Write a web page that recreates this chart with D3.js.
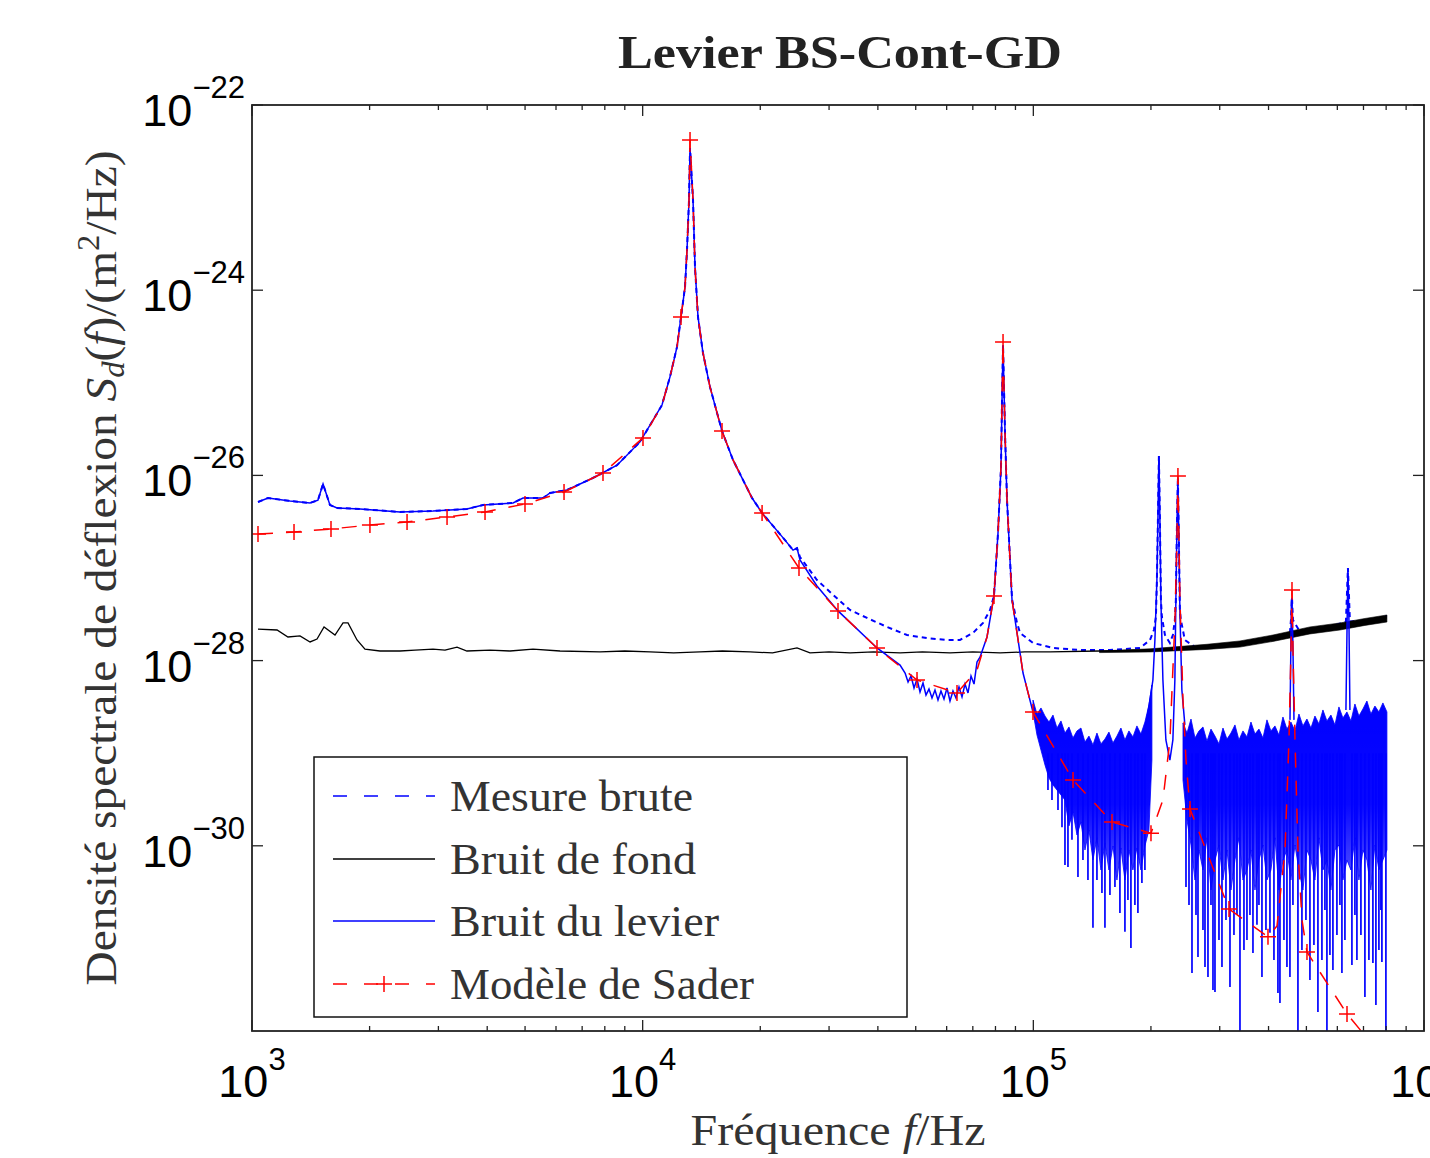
<!DOCTYPE html>
<html><head><meta charset="utf-8">
<script src="https://cdn.jsdelivr.net/npm/d3@7"></script>
<style>body{margin:0;background:#fff} svg{display:block}</style>
</head><body>
<svg id="c" width="1430" height="1158"></svg>
<script>
// ---------- axis ticks / labels ----------
const xTickValues = [1e3, 1e4, 1e5, 1e6];
const xTickExps = ["3", "4", "5", "6"];
const yTickValues = [1e-22, 1e-24, 1e-26, 1e-28, 1e-30];
const yTickExps = ["\u221222", "\u221224", "\u221226", "\u221228", "\u221230"];
const legendLabels = ["Mesure brute", "Bruit de fond", "Bruit du levier", "Mod\u00e8le de Sader"];

// ---------- series: [frequency Hz, S_d m^2/Hz] ----------
const mesureBrute = [[1036,5.16e-27],[1099,5.70e-27],[1251,5.30e-27],[1408,5.04e-27],[1475,5.40e-27],[1520,8.07e-27],[1583,4.79e-27],[1651,4.45e-27],[1890,4.34e-27],[2392,4.03e-27],[2906,4.13e-27],[3550,4.34e-27],[3903,4.79e-27],[4657,5.04e-27],[4940,5.70e-27],[5558,5.70e-27],[5792,6.46e-27],[6403,6.95e-27],[7462,9.38e-27],[8597,1.29e-26],[9844,2.30e-26],[11206,5.75e-26],[11748,1.16e-25],[12244,2.44e-25],[12535,5.14e-25],[12835,1.08e-24],[12987,2.72e-24],[13141,9.42e-24],[13220,3.43e-23],[13456,9.42e-24],[13614,1.78e-24],[13856,5.14e-25],[14268,2.10e-25],[14870,9.02e-26],[15963,3.01e-26],[17030,1.47e-26],[19055,5.70e-27],[20215,3.93e-27],[23140,2.00e-27],[24260,1.56e-27],[24836,1.64e-27],
[25277,1.31e-27],[27935,7.42e-28],[30164,5.51e-28],[33951,3.52e-28],[37522,2.89e-28],[42211,2.31e-28],[47501,1.89e-28],[53430,1.75e-28],[60121,1.67e-28],[64908,1.67e-28],[70077,1.99e-28],[74340,2.55e-28],[77469,3.52e-28],[79310,4.99e-28],[81202,2.39e-27],[82650,1.23e-26],[83146,6.52e-26],[83645,2.56e-25],[84633,2.87e-26],[85633,5.42e-27],[88197,4.6e-28],[90831,2.55e-28],[92474,1.99e-28],[99793,1.55e-28],[112300,1.37e-28],[131680,1.30e-28],[157070,1.30e-28],[187500,1.37e-28],[198880,1.67e-28],[203540,2.14e-28],[205950,2.96e-28],[207160,7.42e-28],[208390,3.30e-27],[209620,1.62e-26],[210860,3.30e-27],[212110,4.51e-28],[213380,2.96e-28],[217200,1.89e-28],[223620,1.55e-28],[227610,1.89e-28],[230300,2.74e-28],[231660,4.51e-28],[233030,2.57e-27],[234410,9.38e-27],[235800,2.00e-27],[237190,3.52e-28],[238600,2.74e-28],[244280,1.67e-28],[259290,1.40e-28],[318670,1.47e-28],[403340,1.75e-28],[453780,1.99e-28],[456470,2.74e-28],[459300,4.74e-28],[462000,2.74e-28],[481500,2.04e-28],[574380,2.31e-28],[631170,2.64e-28],[638650,1.0e-27],[646230,2.64e-28],[727030,2.74e-28],[803630,3.03e-28]];

const bruitFond = [[1036,2.19e-28],[1159,2.14e-28],[1236,1.80e-28],[1327,1.85e-28],[1408,1.59e-28],[1467,1.71e-28],[1529,2.31e-28],[1631,1.89e-28],[1710,2.55e-28],[1761,2.55e-28],[1857,1.67e-28],[1946,1.33e-28],[2126,1.27e-28],[2392,1.27e-28],[2614,1.30e-28],[2906,1.33e-28],[3119,1.30e-28],[3348,1.40e-28],[3550,1.27e-28],[4067,1.30e-28],[4575,1.27e-28],[5240,1.33e-28],[6144,1.27e-28],[7778,1.24e-28],[9000,1.27e-28],[10442,1.24e-28],[12000,1.21e-28],[14019,1.24e-28],[16000,1.27e-28],[18830,1.24e-28],[21500,1.21e-28],[24836,1.37e-28],[26810,1.21e-28],[30000,1.24e-28],[33951,1.21e-28],[39000,1.24e-28],[45584,1.21e-28],[52000,1.24e-28],[61190,1.21e-28],[70000,1.24e-28],[82180,1.21e-28],[95000,1.24e-28],[110330,1.24e-28],[147700,1.27e-28],[198880,1.30e-28],[278280,1.40e-28],[338010,1.55e-28],[410600,1.75e-28],[510530,2.14e-28],[609500,2.31e-28],[705930,2.64e-28],[803630,2.89e-28]];
// thick (noisy) high-frequency part of the floor: [f, upper, lower]
const bruitFondBand = [[147700,1.27e-28,1.22e-28],[198880,1.34e-28,1.24e-28],[278280,1.50e-28,1.32e-28],[338010,1.63e-28,1.40e-28],[410600,1.89e-28,1.61e-28],[510530,2.31e-28,1.94e-28],[609500,2.55e-28,2.14e-28],[705930,2.85e-28,2.40e-28],[803630,3.11e-28,2.61e-28]];

const bruitLevier = [[1036,5.16e-27],[1099,5.70e-27],[1251,5.30e-27],[1408,5.04e-27],[1475,5.40e-27],[1520,8.07e-27],[1583,4.79e-27],[1651,4.45e-27],[1890,4.34e-27],[2392,4.03e-27],[2906,4.13e-27],[3550,4.34e-27],[3903,4.79e-27],[4657,5.04e-27],[4940,5.70e-27],[5558,5.70e-27],[5792,6.46e-27],[6403,6.95e-27],[7462,9.38e-27],[8597,1.29e-26],[9844,2.30e-26],[11206,5.75e-26],[11748,1.16e-25],[12244,2.44e-25],[12535,5.14e-25],[12835,1.08e-24],[12987,2.72e-24],[13141,9.42e-24],[13220,3.43e-23],[13456,9.42e-24],[13614,1.78e-24],[13856,5.14e-25],[14268,2.10e-25],[14870,9.02e-26],[15963,3.01e-26],[17030,1.47e-26],[19055,5.70e-27],[20215,3.93e-27],[23140,2.00e-27],[24260,1.56e-27],[24836,1.64e-27],[25277,1.22e-27],[27935,6.4e-28],[31623,3.44e-28],[39795,1.37e-28],[45584,8.95e-29],
[46960,7.34e-29],[47790,5.87e-29],[48640,6.82e-29],[49500,5.06e-29],[50380,6.33e-29],[51280,4.58e-29],[52190,5.73e-29],[53120,4.25e-29],[54060,4.93e-29],[55030,3.94e-29],[56010,4.81e-29],[57010,3.76e-29],[58020,4.70e-29],[59060,3.85e-29],[60120,5.06e-29],[61190,3.66e-29],[62280,4.70e-29],[63390,3.94e-29],[64520,5.19e-29],[65680,4.05e-29],[66850,5.58e-29],[68040,4.47e-29],[69260,6.82e-29],[70500,5.58e-29],[71750,9.66e-29],[73030,1.09e-28],
[76109,1.80e-28],[79310,4.99e-28],[81202,2.39e-27],[82650,1.23e-26],[83146,6.52e-26],[83645,2.56e-25],[84633,2.87e-26],[85633,5.42e-27],[88197,4.51e-28],[90831,1.99e-28],[94110,7.34e-29],[99793,2.79e-29],[102180,2.65e-29]];

// dense noise of the lever spectrum above 100 kHz: [f, upper edge, lower edge of the dense body]
const levierNoiseA = [[99800,3.75e-29,2.79e-29],[102180,2.65e-29,1.57e-29],[104620,3.08e-29,1.08e-29],[107110,2.52e-29,7.46e-30],[109660,2.17e-29,5.40e-30],[112280,2.58e-29,4.54e-30],[114960,1.87e-29,4.00e-30],[117700,2.23e-29,3.54e-30],[120500,1.65e-29,3.12e-30],[123370,1.92e-29,1.64e-30],[126310,1.46e-29,2.32e-30],[129330,1.74e-29,1.31e-30],[132410,1.87e-29,1.81e-30],[135570,1.32e-29,9.01e-31],[138800,1.53e-29,1.48e-30],[142110,1.23e-29,7.03e-31],[145490,1.65e-29,1.22e-30],[148960,1.26e-29,5.48e-31],[152510,1.42e-29,1.07e-30],[156150,1.69e-29,5.48e-31],[159870,1.29e-29,9.95e-31],[163680,1.53e-29,4.27e-31],[167580,1.87e-29,9.47e-31],[171580,1.39e-29,4.27e-31],[175670,1.74e-29,9.01e-31],[179850,1.50e-29,5.48e-31],[184140,1.97e-29,9.47e-31],[188530,1.61e-29,5.48e-31],[193030,2.17e-29,9.95e-31],[197630,3.31e-29,1.48e-30],[201150,5.45e-29,8.44e-30]];
const levierNoiseB = [[241590,2.12e-29,5.14e-30],[247350,1.65e-29,1.90e-30],[253250,2.34e-29,1.02e-30],[259290,1.46e-29,4.27e-31],[265470,1.74e-29,9.01e-31],[271800,1.92e-29,5.48e-31],[278280,1.35e-29,1.22e-30],[284920,1.82e-29,3.33e-31],[291710,1.53e-29,7.03e-31],[298670,1.26e-29,1.02e-30],[305790,1.87e-29,4.27e-31],[313080,1.42e-29,9.01e-31],[320550,1.65e-29,3.33e-31],[328190,2.02e-29,7.03e-31],[336020,1.39e-29,1.22e-30],[344030,1.74e-29,4.27e-31],[352230,1.50e-29,5.48e-31],[360630,2.17e-29,9.01e-31],[369230,1.61e-29,3.33e-31],[378040,1.82e-29,7.03e-31],[387050,1.46e-29,1.02e-30],[396280,2.29e-29,4.27e-31],[405730,1.74e-29,5.48e-31],[415410,1.97e-29,1.22e-30],[425310,1.57e-29,3.33e-31],[435450,2.46e-29,7.03e-31],[445840,1.82e-29,9.01e-31],[456470,2.17e-29,4.27e-31],[467350,1.74e-29,1.02e-30],[478500,2.65e-29,5.48e-31],[489910,1.97e-29,3.33e-31],[501590,2.34e-29,9.01e-31],[513550,1.87e-29,7.03e-31],[525800,2.52e-29,4.27e-31],[538340,2.07e-29,1.22e-30],[551180,2.93e-29,5.48e-31],[564320,2.23e-29,7.03e-31],[577780,2.58e-29,3.33e-31],[591560,2.02e-29,9.01e-31],[605670,3.16e-29,1.02e-30],[620110,2.40e-29,4.27e-31],[634900,2.79e-29,7.03e-31],[650040,2.23e-29,5.48e-31],[665540,3.40e-29,1.22e-30],[681410,2.52e-29,4.27e-31],[697660,3.00e-29,9.01e-31],[714300,3.66e-29,7.03e-31],[731330,2.65e-29,3.33e-31],[748770,3.23e-29,1.02e-30],[766630,2.79e-29,5.48e-31],[784910,3.49e-29,7.03e-31],[803630,2.79e-29,9.01e-31]];
// downward noise spikes: [f, lowest value]
const levierSpikeTop = 1e-29;
const levierSpikes = [[109010,4.00e-30],[111620,3.12e-30],[115640,2.44e-30],[118400,1.59e-30],[120500,6.21e-31],[122640,5.91e-31],[125570,1.16e-30],[130090,4.60e-31],[133980,7.03e-31],[137980,4.27e-31],[142110,1.30e-31],[145490,4.27e-31],[149840,3.09e-31],[152510,1.30e-31],[157070,2.94e-31],[161770,3.59e-31],[166590,1.88e-31],[171580,1.18e-31],[174640,2.60e-31],[177750,7.88e-32],[181980,2.30e-31],[185230,1.88e-31],[189640,3.97e-31],[193030,5.48e-31],
[245900,3.59e-31],[250290,2.30e-31],[254750,4.23e-32],[260820,1.79e-31],[263910,6.30e-32],[271800,1.23e-31],[275030,4.91e-32],[279920,3.83e-32],[284920,2.30e-31],[288300,2.77e-32],[291710,2.64e-32],[298670,9.61e-32],[303990,4.91e-32],[311240,1.58e-31],[318670,2.99e-32],[326260,1.09e-31],[332080,1.79e-31],[338010,8e-33],[346060,7.50e-32],[352230,9.61e-32],[358510,1.79e-31],[364910,6.96e-32],[373610,1.40e-31],[378040,2.30e-31],[384780,3.83e-32],[393950,1.23e-31],[403340,1.15e-31],[412970,5.84e-32],[422810,2.57e-32],[427820,2.01e-32],[438020,9.61e-32],[445840,4.91e-32],[453780,3.83e-32],[461890,2.30e-31],[475690,8e-33],[487030,7.50e-32],[498640,1.58e-31],[510530,3.55e-32],[522710,8.49e-32],[535170,1.60e-32],[547940,5.84e-32],[557720,2.03e-31],[564320,8e-33],[574380,6.62e-32],[584620,4.56e-32],[598580,1.09e-31],[609250,2.30e-31],[616460,4.23e-32],[627470,9.61e-32],[653880,5.16e-32],[665540,1.79e-31],[673440,5.84e-32],[689500,1.09e-31],[705930,2.33e-32],[722770,5.84e-32],[740000,5.42e-32],[753190,1.91e-32],[766630,7.50e-32],[775720,2.03e-31],[780290,5.57e-32],[798900,8e-33]];
// sharp resonances of the lever above the noise
const levierPeakPair = [[194170,2.02e-29],[198800,3.75e-29],[202340,6.17e-29],[204740,1.67e-28],[207160,7.42e-28],[208390,3.30e-27],[209620,1.62e-26],[210860,3.30e-27],[212110,4.51e-28],[214620,6.17e-29],[218430,1.39e-29],[223620,8.44e-30],[227610,1.39e-29],[230300,6.17e-29],[231660,4.51e-28],[233030,2.57e-27],[234410,9.38e-27],[235800,2.00e-27],[237190,3.52e-28],[240010,4.81e-29],[244280,2.02e-29]];
const levierPeak4 = [[453900,2.29e-29],[457800,4.51e-28],[459300,4.74e-28],[462000,1.30e-28],[464700,2.29e-29]];
const levierPeak5 = [[631170,2.93e-29],[636780,4.51e-28],[638650,1.00e-27],[642430,2.74e-28],[646230,2.93e-29]];

const modeleSader = [[1036,2.33e-27],[1281,2.45e-27],[1593,2.64e-27],[2004,2.91e-27],[2494,3.14e-27],[3157,3.56e-27],[3949,4.03e-27],[4998,4.91e-27],[6291,6.62e-27],[7915,1.06e-26],[10019,2.54e-26],[11206,5.75e-26],[11748,1.16e-25],[12244,2.44e-25],[12535,5.14e-25],[12835,1.08e-24],[12987,2.72e-24],[13141,9.42e-24],[13220,4.19e-23],[13456,9.42e-24],[13614,1.78e-24],[13856,5.14e-25],[14268,2.10e-25],[14870,9.02e-26],[15963,3.01e-26],[17030,1.47e-26],[19055,5.70e-27],[20215,3.93e-27],[25128,1.00e-27],[31623,3.44e-28],[39795,1.37e-28],[50379,6.17e-29],[63767,4.47e-29],[71750,7.91e-29],[76109,1.80e-28],[79310,4.99e-28],[81202,2.39e-27],[82650,1.23e-26],[83146,6.52e-26],[83645,2.76e-25],[84633,2.87e-26],[85633,5.42e-27],[88197,4.51e-28],[90831,1.99e-28],[94110,7.34e-29],[99793,2.79e-29],[126360,5.14e-30],[159000,1.81e-30],[200060,1.37e-30],[214670,3.13e-30],[223700,1.39e-29],[230400,2.74e-28],[233100,2.00e-27],[234500,9.86e-27],[237300,4.51e-28],[241600,3.76e-29],[245900,8.45e-30],[251800,2.50e-30],[316800,2.08e-31],[398700,1.04e-31],[420400,1.36e-31],[440800,9.02e-31],[451200,1.39e-29],[456600,1.30e-28],[459300,5.78e-28],[462000,1.30e-28],[467500,1.39e-29],[475800,9.02e-31],[487200,1.58e-31],[501700,7.13e-32],[635200,1.53e-32],[693900,9.75e-33]];
const saderMarkers = [[1036,2.33e-27],[1281,2.45e-27],[1593,2.64e-27],[2004,2.91e-27],[2494,3.14e-27],[3157,3.56e-27],[3949,4.03e-27],[4998,4.91e-27],[6291,6.62e-27],[7915,1.06e-26],[10019,2.54e-26],[12535,5.14e-25],[13220,4.19e-23],[15963,3.01e-26],[20215,3.93e-27],[25128,1.00e-27],[31623,3.44e-28],[39795,1.37e-28],[50379,6.17e-29],[63767,4.47e-29],[79310,4.99e-28],[83645,2.76e-25],[99793,2.79e-29],[126360,5.14e-30],[159000,1.81e-30],[200060,1.37e-30],[234500,9.86e-27],[251800,2.50e-30],[316800,2.08e-31],[398700,1.04e-31],[459300,5.78e-28],[501700,7.13e-32],[635200,1.53e-32]];

// ---------- drawing ----------
const svg = d3.select("#c");
const M = {l: 252, r: 1424, t: 105, b: 1031};
const x = d3.scaleLog().domain([1e3, 1e6]).range([M.l, M.r]);
const y = d3.scaleLog().domain([1e-32, 1e-22]).range([M.b, M.t]);
const BLUE = "#0000ff", RED = "#ff0000";
const serif = "'Liberation Serif','DejaVu Serif',serif";
const sans = "'Liberation Sans',Arial,Helvetica,sans-serif";

svg.append("rect").attr("width", 1430).attr("height", 1158).attr("fill", "#fff");
const defs = svg.append("defs");
defs.append("clipPath").attr("id", "clip")
  .append("rect").attr("x", M.l).attr("y", M.t).attr("width", M.r - M.l).attr("height", M.b - M.t);
const grad = defs.append("linearGradient").attr("id", "noiseGrad")
  .attr("gradientUnits", "userSpaceOnUse").attr("x1", 0).attr("x2", 0).attr("y1", 700).attr("y2", 890);
grad.append("stop").attr("offset", 0).attr("stop-color", BLUE).attr("stop-opacity", 1);
grad.append("stop").attr("offset", 0.55).attr("stop-color", BLUE).attr("stop-opacity", 0.97);
grad.append("stop").attr("offset", 1).attr("stop-color", BLUE).attr("stop-opacity", 0.65);

const g = svg.append("g").attr("clip-path", "url(#clip)");
const line = d3.line().x(d => x(d[0])).y(d => y(d[1]));
const band = d3.area().x(d => x(d[0])).y0(d => y(d[2])).y1(d => y(d[1]));

// Mesure brute (dashed blue)
g.append("path").attr("d", line(mesureBrute)).attr("fill", "none")
  .attr("stroke", BLUE).attr("stroke-width", 2).attr("stroke-dasharray", "5,4");
// Bruit de fond (black)
g.append("path").attr("d", line(bruitFond)).attr("fill", "none")
  .attr("stroke", "#000").attr("stroke-width", 1.3);
g.append("path").attr("d", band(bruitFondBand)).attr("fill", "#000").attr("stroke", "#000").attr("stroke-width", 0.6);
// Bruit du levier (solid blue)
g.append("path").attr("d", line(bruitLevier)).attr("fill", "none")
  .attr("stroke", BLUE).attr("stroke-width", 1.5);
[levierNoiseA, levierNoiseB].forEach(a => {
  g.append("path").attr("d", band(a)).attr("fill", "url(#noiseGrad)").attr("stroke", BLUE).attr("stroke-width", 0.8);
});
g.selectAll("line.spike").data(levierSpikes).join("line").attr("class", "spike")
  .attr("x1", d => x(d[0])).attr("x2", d => x(d[0]))
  .attr("y1", y(levierSpikeTop)).attr("y2", d => y(d[1]))
  .attr("stroke", BLUE).attr("stroke-width", 1.7);
[levierPeakPair, levierPeak4, levierPeak5].forEach(a => {
  g.append("path").attr("d", line(a)).attr("fill", "none").attr("stroke", BLUE).attr("stroke-width", 1.5);
});
// Modele de Sader (red dashed with + markers)
g.append("path").attr("d", line(modeleSader)).attr("fill", "none")
  .attr("stroke", RED).attr("stroke-width", 1.5).attr("stroke-dasharray", "15,13");
const plus = (sel, s) => sel.attr("d", `M${-s},0H${s}M0,${-s}V${s}`).attr("stroke", RED).attr("stroke-width", 1.5).attr("fill", "none");
g.selectAll("path.mk").data(saderMarkers).join("path").attr("class", "mk")
  .attr("transform", d => `translate(${x(d[0])},${y(d[1])})`).call(plus, 8);

// ---------- axes box & ticks ----------
const ax = svg.append("g").attr("stroke", "#222").attr("stroke-width", 1.3);
ax.append("rect").attr("x", M.l).attr("y", M.t).attr("width", M.r - M.l).attr("height", M.b - M.t)
  .attr("fill", "none").attr("stroke-width", 1.8);
const minorX = x.ticks().filter(v => !xTickValues.includes(v));
minorX.forEach(v => {
  ax.append("line").attr("x1", x(v)).attr("x2", x(v)).attr("y1", M.b).attr("y2", M.b - 5);
  ax.append("line").attr("x1", x(v)).attr("x2", x(v)).attr("y1", M.t).attr("y2", M.t + 5);
});
xTickValues.forEach(v => {
  ax.append("line").attr("x1", x(v)).attr("x2", x(v)).attr("y1", M.b).attr("y2", M.b - 11);
  ax.append("line").attr("x1", x(v)).attr("x2", x(v)).attr("y1", M.t).attr("y2", M.t + 11);
});
yTickValues.forEach(v => {
  ax.append("line").attr("x1", M.l).attr("x2", M.l + 11).attr("y1", y(v)).attr("y2", y(v));
  ax.append("line").attr("x1", M.r).attr("x2", M.r - 11).attr("y1", y(v)).attr("y2", y(v));
});
// tick labels
xTickValues.forEach((v, i) => {
  const t = svg.append("text").attr("x", x(v)).attr("y", 1097).attr("text-anchor", "middle")
    .attr("font-family", sans).attr("font-size", 45).attr("fill", "#000");
  t.append("tspan").text("10");
  t.append("tspan").attr("dy", -27).attr("font-size", 31).text(xTickExps[i]);
});
yTickValues.forEach((v, i) => {
  const t = svg.append("text").attr("x", 245).attr("y", y(v) + 21).attr("text-anchor", "end")
    .attr("font-family", sans).attr("font-size", 45).attr("fill", "#000");
  t.append("tspan").text("10");
  t.append("tspan").attr("dy", -28).attr("font-size", 31).text(yTickExps[i]);
});

// title
svg.append("text").attr("x", 840).attr("y", 68).attr("text-anchor", "middle")
  .attr("font-family", serif).attr("font-weight", "bold").attr("font-size", 46).attr("fill", "#222")
  .attr("textLength", 444).attr("lengthAdjust", "spacingAndGlyphs").text("Levier BS-Cont-GD");

// x label
const xl = svg.append("text").attr("x", 838).attr("y", 1145).attr("text-anchor", "middle")
  .attr("font-family", serif).attr("font-size", 45).attr("fill", "#333")
  .attr("textLength", 295).attr("lengthAdjust", "spacingAndGlyphs");
xl.append("tspan").text("Fr\u00e9quence ");
xl.append("tspan").attr("font-style", "italic").text("f");
xl.append("tspan").text("/Hz");

// y label
const yl = svg.append("text").attr("transform", "translate(116,568) rotate(-90)").attr("text-anchor", "middle")
  .attr("font-family", serif).attr("font-size", 45).attr("fill", "#333")
  .attr("textLength", 835).attr("lengthAdjust", "spacingAndGlyphs");
yl.append("tspan").text("Densit\u00e9 spectrale de d\u00e9flexion ");
yl.append("tspan").attr("font-style", "italic").text("S");
yl.append("tspan").attr("font-style", "italic").attr("font-size", 31).attr("dy", 8).text("d");
yl.append("tspan").attr("dy", -8).text("(");
yl.append("tspan").attr("font-style", "italic").text("f");
yl.append("tspan").text(")/(m");
yl.append("tspan").attr("font-size", 31).attr("dy", -17).text("2");
yl.append("tspan").attr("dy", 17).text("/Hz)");

// ---------- legend ----------
const lg = svg.append("g");
lg.append("rect").attr("x", 314).attr("y", 757).attr("width", 593).attr("height", 260)
  .attr("fill", "#fff").attr("stroke", "#111").attr("stroke-width", 1.5);
const rowsY = [796, 859, 921, 984];
const textW = [243, 246, 269, 304];
const styles = [
  {c: BLUE, dash: "14,17", w: 1.5},
  {c: "#000", dash: null, w: 1.3},
  {c: BLUE, dash: null, w: 1.5},
  {c: RED, dash: "14,17", w: 1.5}
];
legendLabels.forEach((lab, i) => {
  lg.append("line").attr("x1", 333).attr("x2", 435).attr("y1", rowsY[i]).attr("y2", rowsY[i])
    .attr("stroke", styles[i].c).attr("stroke-width", styles[i].w)
    .attr("stroke-dasharray", styles[i].dash);
  lg.append("text").attr("x", 450).attr("y", rowsY[i] + 15).attr("font-family", serif)
    .attr("font-size", 45).attr("fill", "#333").attr("textLength", textW[i])
    .attr("lengthAdjust", "spacingAndGlyphs").text(lab);
});
lg.append("path").attr("transform", `translate(384,${rowsY[3]})`).call(plus, 8);
</script>
</body></html>
